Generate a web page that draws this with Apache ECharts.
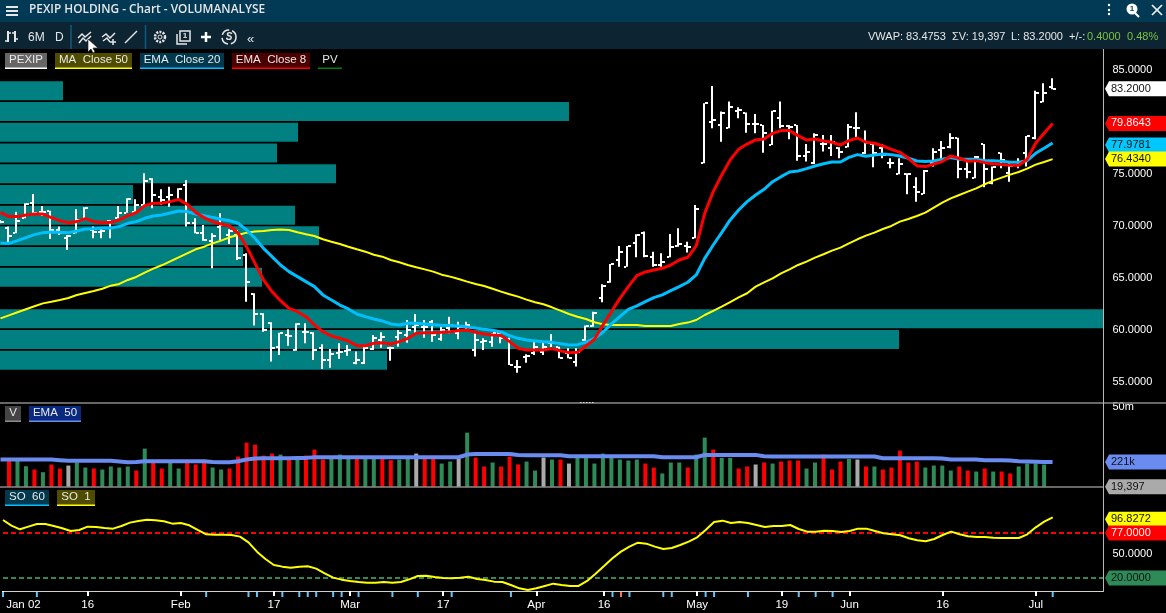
<!DOCTYPE html>
<html><head><meta charset="utf-8">
<style>html,body{margin:0;padding:0;background:#000;overflow:hidden}#c{width:1166px;height:613px}</style>
<script src="https://cdn.jsdelivr.net/npm/echarts@6/dist/echarts.min.js"></script>
</head><body><div id="c"></div>
<script>
const tickIndex=[0,10,21,32,41,52,63,71,82,92,100,111,122];
const tickLabels=['Jan 02','16','Feb','17','Mar','17','Apr','16','May','19','Jun','16','Jul'];
const newsIndex=[0,4,24,29,30,33,35,36,37,39,40,42,46,49,53,60,72,74,78,79,83,84,88,94,96,98,124];
const alertIndex=[73];
const high=[70.58,69.94,71.38,72.18,73.08,71.92,71.47,69.94,69.14,71.60,71.80,69.94,69.78,70.58,71.92,72.66,72.56,75.06,74.58,73.53,73.78,73.62,74.42,70.74,70.10,69.30,71.22,69.68,69.62,67.37,63.53,61.60,60.74,59.74,60.06,60.64,60.64,59.78,58.62,58.17,58.72,58.56,57.92,58.40,59.52,59.78,58.40,60.00,60.96,61.54,60.96,60.96,60.32,61.28,60.80,60.80,59.68,59.20,59.68,59.68,59.25,57.12,57.66,58.88,58.88,59.62,58.40,58.24,58.24,60.42,61.76,64.39,66.35,68.08,68.08,69.20,69.46,67.53,67.37,69.23,69.78,68.49,72.02,81.80,83.46,81.00,81.96,81.41,80.90,80.77,79.71,81.09,81.96,79.71,79.71,77.88,78.91,78.75,78.75,77.56,79.81,80.93,79.17,77.95,77.88,76.51,76.51,75.06,74.68,75.39,77.47,78.17,78.91,78.49,76.51,76.73,77.88,75.71,77.05,76.19,76.51,78.65,83.01,83.72,84.20];
const low=[70.26,68.27,69.30,70.74,71.06,70.96,68.75,69.14,67.69,69.30,70.58,68.82,68.82,68.82,70.74,71.28,71.38,72.02,71.70,72.02,71.86,72.50,69.94,69.30,68.59,65.93,68.66,68.27,66.73,62.72,60.42,59.84,56.96,57.60,58.49,58.01,58.72,57.12,56.25,56.38,57.21,57.53,56.70,56.73,58.08,58.30,57.05,58.40,58.78,59.74,59.25,58.88,58.97,59.68,59.10,60.00,57.44,58.08,58.40,58.72,56.64,55.90,56.86,57.60,57.60,58.33,57.28,57.28,56.48,58.97,60.32,62.66,64.55,66.09,66.09,66.99,66.99,66.09,66.09,66.99,68.01,67.44,68.82,76.03,79.39,78.11,79.39,80.35,78.97,78.91,77.05,77.79,79.39,78.33,76.28,76.19,75.96,77.15,76.73,76.51,77.56,78.43,76.92,75.64,76.51,75.55,74.97,73.05,72.34,73.08,75.71,76.51,77.47,74.58,74.58,74.58,73.72,74.01,75.55,74.26,75.55,75.71,78.33,81.89,83.14];
const open=[70.42,69.78,69.30,70.74,72.18,71.38,71.47,69.62,68.82,69.30,70.58,69.62,69.46,70.51,70.74,71.28,71.38,72.02,74.49,72.82,72.76,72.50,73.94,70.32,69.36,68.59,69.94,69.14,69.14,67.21,63.46,61.54,60.70,58.40,59.52,58.08,59.84,59.74,58.24,57.12,57.76,57.98,56.80,56.86,58.17,59.04,58.30,59.36,59.52,60.32,60.32,60.80,59.14,60.16,59.68,60.32,58.08,58.88,58.88,59.68,59.04,56.48,57.44,57.82,57.92,58.72,58.40,57.76,56.96,59.04,60.39,63.11,64.65,66.73,66.09,68.34,69.36,67.05,66.25,66.99,68.08,68.08,68.88,76.03,79.97,79.71,79.46,81.09,80.90,79.81,79.71,77.79,80.35,79.62,79.71,76.73,76.03,77.88,77.47,77.47,77.63,79.39,76.99,77.88,77.47,76.03,75.00,75.00,73.78,73.08,76.03,77.31,77.63,78.43,75.45,74.65,77.88,74.10,76.99,75.06,75.87,76.99,78.43,81.96,83.40];
const close=[70.42,69.07,70.51,72.08,71.22,71.38,69.62,69.30,69.07,70.58,71.70,69.46,69.55,70.42,71.28,72.56,72.02,74.36,72.98,72.50,72.98,73.53,70.26,69.36,68.66,69.07,70.10,69.52,66.89,64.65,61.54,60.00,58.24,59.68,59.46,60.58,59.84,58.08,57.12,57.66,57.92,58.08,57.12,58.24,59.20,59.36,58.24,59.68,60.00,60.48,60.32,59.52,60.00,60.48,60.32,60.48,59.04,58.97,59.68,59.25,56.64,56.48,57.50,58.40,58.40,58.72,57.28,57.34,57.92,60.42,61.67,64.26,66.32,67.53,68.08,69.14,67.12,66.25,66.51,68.01,68.27,68.01,71.60,81.80,80.19,80.83,81.41,81.15,79.81,79.81,78.91,81.09,79.62,79.49,76.73,77.15,78.75,77.88,78.11,77.15,79.49,79.39,77.95,76.99,76.83,76.03,75.96,75.00,73.30,75.32,77.15,77.47,78.43,75.45,75.22,76.67,75.45,75.64,76.35,75.77,76.03,78.65,82.82,82.82,83.20];
const ema8=[71.28,70.90,70.90,71.06,71.15,71.15,70.80,70.51,70.32,70.42,70.71,70.42,70.32,70.35,70.58,70.99,71.28,71.96,72.18,72.18,72.34,72.56,72.08,71.31,70.80,70.42,70.19,70.00,69.30,68.01,66.41,64.81,63.69,62.82,62.08,61.76,61.28,60.48,59.84,59.42,59.20,58.94,58.49,58.49,58.72,58.78,58.65,58.88,59.20,59.68,59.74,59.74,59.78,59.84,59.94,60.00,59.78,59.62,59.52,59.46,58.88,58.24,58.08,58.08,58.08,58.21,58.01,57.82,57.85,58.46,59.10,60.48,61.76,63.04,64.17,65.23,65.58,65.77,65.93,66.25,66.73,66.99,68.08,71.22,73.30,74.90,76.35,77.37,77.88,78.27,78.37,78.91,79.17,79.17,78.69,78.27,78.37,78.17,78.05,77.79,78.21,78.46,78.05,77.95,77.69,77.37,77.08,76.51,75.80,75.71,75.96,76.19,76.73,76.51,76.22,76.28,76.09,75.99,75.90,75.83,75.83,76.41,77.95,78.91,79.86];
const ema20=[68.33,68.33,68.59,68.88,69.17,69.36,69.42,69.39,69.36,69.52,69.71,69.74,69.81,69.81,69.94,70.26,70.42,70.74,70.96,71.06,71.25,71.44,71.38,71.15,70.99,70.83,70.64,70.51,70.26,69.62,68.82,67.85,67.05,66.25,65.61,65.13,64.65,64.17,63.37,62.89,62.40,62.02,61.54,61.28,61.06,60.87,60.58,60.48,60.64,60.64,60.58,60.51,60.45,60.42,60.39,60.29,60.19,60.06,59.97,59.81,59.46,59.20,59.04,58.94,58.88,58.81,58.69,58.56,58.59,58.81,59.20,59.78,60.58,61.28,61.99,62.31,62.72,63.11,63.37,63.78,64.17,64.59,65.29,66.89,68.17,69.36,70.58,71.54,72.34,72.98,73.53,74.26,74.74,75.19,75.29,75.51,75.77,75.99,76.15,76.15,76.60,76.86,76.70,76.83,76.92,76.86,76.73,76.51,76.25,76.19,76.25,76.41,76.57,76.41,76.41,76.41,76.28,76.28,76.22,76.12,76.12,76.28,76.99,77.47,77.98];
const ma50=[61.12,61.41,61.70,61.99,62.28,62.56,62.72,62.89,63.08,63.37,63.56,63.75,63.97,64.26,64.43,64.81,65.10,65.51,65.90,66.22,66.60,66.99,67.37,67.76,68.01,68.33,68.59,68.91,69.14,69.36,69.46,69.52,69.62,69.65,69.62,69.39,69.20,69.04,68.72,68.49,68.27,68.01,67.76,67.53,67.24,67.05,66.73,66.51,66.25,66.03,65.83,65.61,65.32,65.13,64.90,64.65,64.43,64.23,63.97,63.69,63.43,63.21,62.92,62.66,62.47,62.18,61.86,61.54,61.28,61.06,60.74,60.55,60.48,60.48,60.48,60.48,60.39,60.39,60.39,60.39,60.58,60.71,60.96,61.44,61.83,62.24,62.69,63.14,63.53,64.17,64.58,64.97,65.45,65.83,66.25,66.57,66.96,67.28,67.63,67.92,68.33,68.72,69.07,69.36,69.71,70.00,70.42,70.67,70.96,71.28,71.76,72.24,72.66,72.98,73.30,73.62,74.01,74.36,74.65,74.94,75.19,75.51,75.90,76.15,76.43];
const profileBins=['84','82','80','78','76','74','72','70','68','66','64','62','60','58'];
const profileVolume=[63,569,298,277,336,133,295,319,243,262,0,1104,899,387];
const volumeK=[null,266,266,147,106,82,174,117,157,218,129,117,106,143,129,143,96,835,218,117,218,117,218,174,240,129,106,117,380,1501,1234,420,510,463,283,283,420,756,283,302,463,334,302,302,302,302,266,283,302,510,302,302,191,233,302,4005,345,143,211,143,380,174,233,96,345,283,283,191,334,334,191,510,345,283,257,283,191,129,72,211,211,129,463,2453,756,334,334,117,143,174,211,191,233,257,257,117,211,463,106,233,302,283,143,143,106,129,685,211,233,129,157,157,96,143,96,87,117,87,87,72,143,191,191,174,19.397];
const volumeDir='d d u u d u d d n u u d u u u u d u d d u u d d d u u d d d d d d u d u d d d u u u d u u d d u u n d d u u n u d d u d d d u u n u d n u u u u u u u u d d u u u d u u d u u d d n d u d d d u u d d d u n d u d d d d d u u u u d d u d u d d u u u u u'.split(' ');
const volumeEmaK=[283,283,283,283,283,283,283,266,249,249,249,249,249,249,233,218,225,240,240,240,240,240,240,240,240,225,218,218,240,283,312,323,323,323,323,334,334,356,356,356,356,356,356,356,356,356,356,356,356,356,356,356,356,356,356,463,494,494,494,494,494,448,433,433,433,433,433,393,393,393,393,393,393,393,393,393,393,393,356,356,356,356,356,448,448,448,448,448,448,448,393,380,380,380,380,380,380,380,380,380,380,380,380,380,323,323,323,323,323,323,323,312,283,283,283,283,266,266,266,257,240,235,230,225,221];
const so=[93.46,86.28,81.64,85.02,88.39,88.39,85.86,82.91,79.53,80.80,85.02,84.60,83.33,82.49,85.86,90.08,92.19,93.88,93.04,91.77,88.82,89.66,86.71,80.80,75.31,74.89,74.89,74.47,72.36,65.18,53.37,44.08,36.49,34.38,33.11,34.38,34.80,31.85,25.94,20.45,17.92,16.23,14.97,14.12,14.12,14.97,14.12,14.97,18.34,22.56,22.98,21.30,20.03,19.61,20.45,21.72,18.76,17.50,15.39,14.97,11.17,6.95,4.84,6.95,9.90,12.86,11.17,9.90,9.90,16.23,25.52,35.22,44.93,53.37,59.70,64.76,63.50,59.70,56.74,58.01,61.81,66.03,71.51,80.80,90.93,92.61,89.66,90.93,89.66,87.13,84.60,85.86,85.86,87.13,82.06,78.69,78.69,79.95,79.53,78.27,79.53,82.49,82.49,79.53,76.58,75.31,74.05,70.25,67.72,66.45,69.40,74.47,78.69,75.31,72.78,71.94,71.94,71.09,70.67,70.67,70.67,75.31,84.17,91.35,96.83];
const soUpper=77, soLower=20;
const priceTicks=[55,60,65,70,75,80,85];
const volumeTicks=[50000000];
const soTicks=[50];
const priceTags=[[83.2,'83.2000','#ffffff','#111111',0],[79.8643,'79.8643','#ff0000','#ffffff',0],[77.9781,'77.9781','#00c8ff','#111111',2],[76.434,'76.4340','#ffff00','#111111',0]];
const volumeTags=[[221,'221k','#6a8cf0','#111111',0],[19.397,'19,397','#aaaaaa','#111111',0]];
const soTags=[[96.8272,'96.8272','#ffff00','#111111',2],[77,'77.0000','#ff0000','#ffffff',0],[20,'20.0000','#2e8b57','#111111',0]];

const FONT='"Liberation Sans",Arial,sans-serif';
const N=131;
const categories=Array.from({length:N},(_,i)=>{const k=tickIndex.indexOf(i);return k<0?'':tickLabels[k];});
const hiddenX=g=>({type:'category',gridIndex:g,data:categories,boundaryGap:false,show:false});
const idx=a=>a.map((v,i)=>[i,v]);

function tagSeries(tags,xi,yi){
  return {type:'custom',xAxisIndex:xi,yAxisIndex:yi,silent:true,clip:false,z:20,
    data:tags.map(t=>[0,t[0]]),
    encode:{x:0,y:1},
    renderItem(p,api){
      const d=tags[p.dataIndex];
      const y=api.coord([0,api.value(1)])[1]+d[4];
      const X=1105,h=7.5;
      return {type:'group',children:[
        {type:'polygon',shape:{points:[[X,y],[X+4,y-h],[1166,y-h],[1166,y+h],[X+4,y+h]]},style:{fill:d[2]}},
        {type:'text',x:X+6,y:y,style:{text:d[1],fill:d[3],fontSize:11,fontFamily:FONT,verticalAlign:'middle',align:'left'}}
      ]};
    }};
}
function chip(x,y,w,h,text,bg,line){
  return [
    {type:'rect',shape:{x,y,width:w,height:h},style:{fill:bg},z:100},
    {type:'rect',shape:{x,y:y+h-1.5,width:w,height:1.5},style:{fill:line},z:101},
    {type:'text',x:x+w/2,y:y+h/2-1,style:{text,fill:'#e8e8e8',font:'11.5px '+FONT,align:'center',verticalAlign:'middle'},z:101}
  ];
}
const gtext=(x,y,text,fill,font,align)=>({type:'text',x,y,style:{text,fill,font:font||('11px '+FONT),align:align||'left',verticalAlign:'middle'},z:101});
const pl=(pts,w,c)=>({type:'polyline',shape:{points:pts},style:{stroke:c||'#e6e6e6',lineWidth:w||1.5,fill:null},z:101});
const vline=(x,y1,y2,c,w)=>({type:'line',shape:{x1:x,y1,x2:x,y2},style:{stroke:c,lineWidth:w||1},z:99});
const hline=(y,x1,x2,c,w)=>({type:'line',shape:{x1,y1:y,x2,y2:y},style:{stroke:c,lineWidth:w||1},z:99});

const graphics=[
  {type:'rect',shape:{x:0,y:0,width:1166,height:22},style:{fill:'#023a55'},z:98},
  {type:'rect',shape:{x:0,y:22,width:1166,height:27},style:{fill:'#0d2532'},z:98},
  {type:'rect',shape:{x:6,y:6,width:12,height:2},style:{fill:'#e6e6e6'},z:101},
  {type:'rect',shape:{x:6,y:10,width:12,height:2},style:{fill:'#e6e6e6'},z:101},
  {type:'rect',shape:{x:6,y:14,width:12,height:2},style:{fill:'#e6e6e6'},z:101},
  gtext(29,10,'PEXIP HOLDING - Chart - VOLUMANALYSE','#e6e6e6','600 11.85px "Open Sans",sans-serif'),
  pl([[8,42],[8,31]],2),pl([[5,41],[8,41]],1.5),pl([[8,33],[11,33]],1.5),pl([[15,42],[15,31]],2),pl([[12,33],[15,33]],1.5),pl([[15,39],[18,39]],1.5),
  gtext(28,38,'6M','#dfe6ea','12px '+FONT),gtext(55,38,'D','#dfe6ea','12px '+FONT),
  vline(71,25,49,'#0f5a80',1.5),vline(145.5,25,49,'#0f5a80',1.5),
  pl([[78,38],[82,34],[85,37],[91,32]]),pl([[79,43],[83,38],[86,41],[91,36]]),
  pl([[102,37],[106,34],[110,38],[115,33]]),pl([[103,41],[107,38],[110,42]]),pl([[113,39],[113,45]]),pl([[110,42],[116,42]]),
  pl([[125,43],[137,31]]),
  {type:'circle',shape:{cx:160,cy:37,r:5},style:{stroke:'#e6e6e6',lineWidth:2.5,fill:'none',lineDash:[2,1.2]},z:101},
  {type:'circle',shape:{cx:160,cy:37,r:2},style:{stroke:'#e6e6e6',lineWidth:1,fill:'none'},z:101},
  {type:'rect',shape:{x:180,y:31,width:10,height:10},style:{stroke:'#e6e6e6',lineWidth:1.5,fill:'none'},z:101},
  pl([[177,34],[177,44],[187,44]]),gtext(185,36,'1','#e6e6e6','bold 8px '+FONT,'center'),
  pl([[201,37],[211,37]],2.5,'#fff'),pl([[206,32],[206,42]],2.5,'#fff'),
  {type:'circle',shape:{cx:229,cy:37,r:7},style:{stroke:'#e6e6e6',lineWidth:1.5,fill:'none',lineDash:[9,3]},z:101},
  gtext(229,37,'S','#e6e6e6','italic bold 10px '+FONT,'center'),
  gtext(247,39,'«','#dfe6ea','13px '+FONT),
  gtext(868,37,'VWAP: 83.4753','#e6e6e6'),gtext(952,37,'ΣV: 19,397','#e6e6e6'),gtext(1011,37,'L: 83.2000','#e6e6e6'),
  gtext(1069,37,'+/-:','#e6e6e6'),gtext(1087,37,'0.4000','#7cc142'),gtext(1127,37,'0.48%','#7cc142'),
  {type:'circle',shape:{cx:1109,cy:5,r:1.2},style:{fill:'#fff'},z:101},{type:'circle',shape:{cx:1109,cy:10,r:1.2},style:{fill:'#fff'},z:101},{type:'circle',shape:{cx:1109,cy:14,r:1.2},style:{fill:'#fff'},z:101},
  {type:'circle',shape:{cx:1132,cy:9,r:5.5},style:{fill:'#fff'},z:101},pl([[1135,13],[1139,17]],2,'#fff'),gtext(1132,9,'1','#023a55','bold 8px '+FONT,'center'),
  pl([[1152,5],[1162,15]],1.7,'#eee'),pl([[1162,5],[1152,15]],1.7,'#eee'),
  ...chip(5,53,42,16,'PEXIP','#666666','#ffffff'),
  ...chip(55,53,77,16,'MA  Close 50','#4f4c00','#ffff00'),
  ...chip(140,53,84,16,'EMA  Close 20','#00394d','#00c0ff'),
  ...chip(232,53,78,16,'EMA  Close 8','#4a0000','#ff0000'),
  ...chip(318,53,24,16,'PV','#000000','#008000'),
  ...chip(5,406,16,16,'V','#444444','#8c8c8c'),
  ...chip(29,406,52,16,'EMA  50','#0a2a80','#6a8cf0'),
  ...chip(5,490,44,16,'SO  60','#00394d','#00c0ff'),
  ...chip(57,490,38,16,'SO  1','#4f4c00','#ffff00'),
  hline(403,0,1166,'#8a8a8a',1.5),
  hline(487,0,1104,'#8a8a8a',1.5),
  vline(1103.5,49,591,'#b8b8b8',1),
  {type:'line',shape:{x1:580,y1:402.5,x2:594,y2:402.5},style:{stroke:'#ddd',lineWidth:1,lineDash:[1.5,1.5]},z:101},
  {type:'polygon',shape:{points:[[88,39],[88,52],[91,49],[93,53],[95,52],[93,48],[98,48]]},style:{fill:'#fff',stroke:'#111',lineWidth:.6},z:102}
];

const yBase=(g,min,max,ticks,fmt)=>({type:'value',gridIndex:g,position:'right',min,max,splitLine:{show:false},axisLine:{show:false},axisTick:{show:false},
  axisLabel:{customValues:ticks,color:'#ffffff',fontSize:11,fontFamily:FONT,margin:9,formatter:fmt,showMinLabel:true,showMaxLabel:true}});

const option={
  backgroundColor:'#000',animation:false,
  grid:[
    {left:0,width:1103.5,top:80.5,height:290},
    {left:0.5,width:1103,top:50,height:353},
    {left:0.5,width:1103,top:407,height:80},
    {left:0.5,width:1103,top:487,height:104}
  ],
  xAxis:[
    {type:'value',gridIndex:0,min:0,max:1103.5,show:false},
    hiddenX(1),hiddenX(2),
    {type:'category',gridIndex:3,data:categories,boundaryGap:false,
     axisLine:{lineStyle:{color:'#d0d0d0',width:1}},
     axisTick:{show:true,length:5,interval:(i,v)=>v!=='',lineStyle:{color:'#ffffff',width:2}},
     axisLabel:{interval:0,color:'#ffffff',fontSize:11.5,fontFamily:FONT,margin:8,alignMinLabel:'left',hideOverlap:false,
       formatter:v=>v===tickLabels[0]?'\u00a0'+v:v}}
  ],
  yAxis:[
    {type:'category',gridIndex:0,data:profileBins,inverse:true,show:false},
    yBase(1,52.98,86.92,priceTicks,v=>Number(v).toFixed(4)),
    Object.assign(yBase(2,19000,50000000,volumeTicks,()=>'50m'),{type:'log',logBase:10}),
    yBase(3,3.54,135.2,soTicks,v=>Number(v).toFixed(4))
  ],
  series:[
    {name:'PV',type:'bar',xAxisIndex:0,yAxisIndex:0,data:profileVolume,barWidth:19,itemStyle:{color:'#008080'},silent:true,z:1},
    {name:'PEXIP',type:'custom',xAxisIndex:1,yAxisIndex:1,silent:true,z:3,clip:false,
     data:high.map((h,i)=>[i,open[i],h,low[i],close[i]]),encode:{x:0,y:[1,2,3,4]},
     renderItem(p,api){
       const i=api.value(0),x=Math.round(api.coord([i,0])[0]);
       const yH=api.coord([i,api.value(2)])[1],yL=api.coord([i,api.value(3)])[1];
       const yO=Math.round(api.coord([i,api.value(1)])[1]),yC=Math.round(api.coord([i,api.value(4)])[1]);
       const f={fill:'#ffffff'};
       return {type:'group',children:[
         {type:'rect',shape:{x:x-2,y:yH,width:2,height:yL-yH},style:f},
         {type:'rect',shape:{x:x-4,y:yO-1,width:2,height:2},style:f},
         {type:'rect',shape:{x:x,y:yC-1,width:3,height:2},style:f}
       ]};
     }},
    {name:'MA Close 50',type:'line',xAxisIndex:1,yAxisIndex:1,data:idx(ma50),showSymbol:false,silent:true,z:4,lineStyle:{color:'#ffff00',width:2}},
    {name:'EMA Close 20',type:'line',xAxisIndex:1,yAxisIndex:1,data:idx(ema20),showSymbol:false,silent:true,z:5,lineStyle:{color:'#00bfff',width:3}},
    {name:'EMA Close 8',type:'line',xAxisIndex:1,yAxisIndex:1,data:idx(ema8),showSymbol:false,silent:true,z:6,lineStyle:{color:'#ff0000',width:3}},
    {name:'V',type:'bar',xAxisIndex:2,yAxisIndex:2,barWidth:4,silent:true,z:3,
     data:volumeK.map((v,i)=>({value:v==null?null:v*1000,itemStyle:{color:{d:'#ff0000',u:'#2e8b57',n:'#aaaaaa'}[volumeDir[i]]}}))},
    {name:'EMA 50',type:'line',xAxisIndex:2,yAxisIndex:2,data:volumeEmaK.map(v=>v*1000),showSymbol:false,silent:true,z:5,lineStyle:{color:'#6a8cf0',width:4}},
    {name:'SO 1',type:'line',xAxisIndex:3,yAxisIndex:3,data:idx(so),showSymbol:false,silent:true,z:5,lineStyle:{color:'#ffff00',width:2},
     markLine:{silent:true,symbol:'none',label:{show:false},animation:false,z:3,data:[
       {yAxis:soUpper,lineStyle:{color:'#ff0000',type:[5,3],width:2}},
       {yAxis:soLower,lineStyle:{color:'#2e8b57',type:[5,3],width:2}}]}},
    {name:'news',type:'custom',xAxisIndex:3,yAxisIndex:3,silent:true,clip:false,z:6,
     data:newsIndex.map(i=>[i,3.54]).concat(alertIndex.map(i=>[i,3.54])),encode:{x:0,y:1},
     renderItem(p,api){
       const c=api.coord([api.value(0),api.value(1)]);
       return {type:'rect',shape:{x:c[0]-1,y:c[1]+1,width:2,height:5},style:{fill:p.dataIndex>=newsIndex.length?'#ff6a5a':'#66c4f5'}};
     }},
    tagSeries(priceTags,1,1),
    tagSeries(volumeTags.map(t=>[t[0]*1000,t[1],t[2],t[3],t[4]]),2,2),
    tagSeries(soTags,3,3)
  ],
  graphic:{elements:graphics}
};
echarts.init(document.getElementById('c'),null,{renderer:'canvas'}).setOption(option);
</script></body></html>
